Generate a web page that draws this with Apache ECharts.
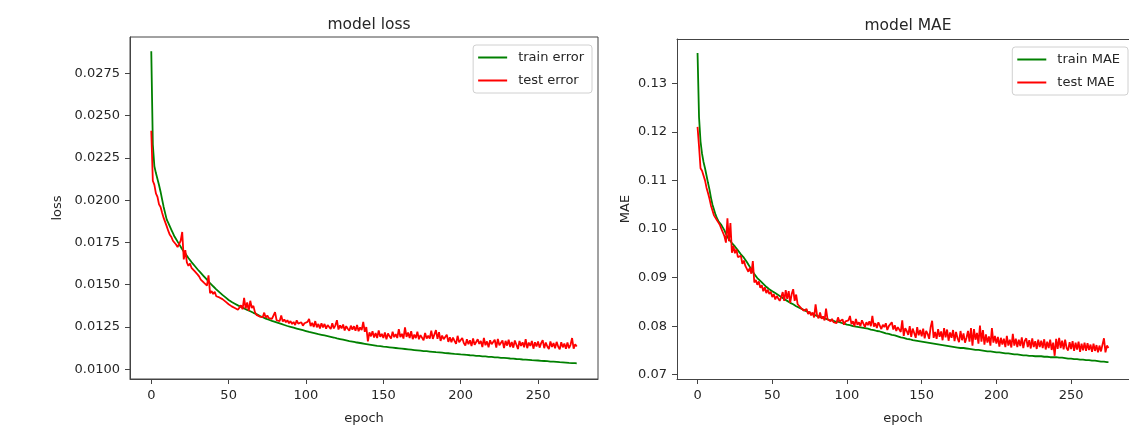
<!DOCTYPE html>
<html>
<head>
<meta charset="utf-8">
<script src="https://cdn.jsdelivr.net/npm/echarts@6/dist/echarts.min.js"></script>
<style>html,body{margin:0;padding:0;background:#fff;}#c{width:1129px;height:430px;}</style>
</head>
<body>
<div id="c"></div>
<script>
// ---- data ----
const epochCount = 276;
const epochTicks = [0, 50, 100, 150, 200, 250];
const lossTicks = [0.0100, 0.0125, 0.0150, 0.0175, 0.0200, 0.0225, 0.0250, 0.0275];
const maeTicks = [0.07, 0.08, 0.09, 0.10, 0.11, 0.12, 0.13];

// loss values in units of 1e-5
const trainLoss = [
2880,2330,2200,2160,2125,2090,2050,2005,1960,1922,
1885,1865,1845,1825,1805,1785,1770,1755,1740,1725,
1710,1697,1684,1671,1658,1646,1634,1623,1612,1601,
1590,1580,1570,1560,1550,1540,1530,1520,1510,1500,
1491,1482,1473,1464,1456,1448,1440,1432,1425,1418,
1410,1404,1398,1393,1388,1383,1378,1373,1369,1364,
1360,1356,1351,1347,1343,1338,1334,1330,1326,1322,
1316,1312,1308,1304,1300,1297,1293,1290,1286,1283,
1280,1277,1274,1271,1268,1265,1262,1259,1256,1254,
1251,1248,1246,1243,1241,1238,1236,1233,1231,1228,
1226,1224,1221,1219,1217,1215,1213,1210,1208,1206,
1204,1202,1200,1198,1196,1194,1192,1190,1188,1186,
1183,1181,1179,1177,1175,1173,1171,1169,1167,1165,
1164,1162,1160,1159,1157,1155,1154,1152,1151,1149,
1148,1146,1145,1143,1142,1141,1139,1138,1137,1135,
1134,1133,1132,1131,1130,1129,1128,1127,1126,1125,
1124,1123,1122,1121,1120,1119,1118,1117,1116,1115,
1114,1113,1112,1111,1110,1109,1108,1107,1107,1106,
1105,1104,1103,1102,1101,1101,1100,1099,1098,1097,
1096,1095,1095,1094,1093,1092,1091,1091,1090,1089,
1088,1087,1087,1086,1085,1084,1083,1083,1082,1081,
1080,1080,1079,1078,1077,1077,1076,1075,1074,1074,
1073,1072,1071,1071,1070,1069,1068,1068,1067,1066,
1066,1065,1064,1063,1063,1062,1061,1061,1060,1059,
1058,1058,1057,1056,1056,1055,1054,1054,1053,1052,
1052,1051,1050,1050,1049,1048,1048,1047,1046,1046,
1045,1044,1044,1043,1042,1042,1041,1040,1040,1039,
1038,1038,1037,1036,1036,1035
];
const testLoss = [
2410,2115,2090,2040,2020,1975,1960,1925,1895,1870,
1845,1818,1795,1782,1760,1752,1738,1722,1712,1760,
1812,1650,1705,1632,1612,1625,1600,1608,1580,1572,
1560,1548,1530,1538,1512,1520,1495,1555,1450,1462,
1445,1458,1432,1440,1425,1432,1415,1420,1400,1408,
1385,1392,1372,1380,1362,1368,1352,1360,1378,1355,
1422,1360,1395,1345,1405,1362,1375,1338,1322,1330,
1312,1320,1308,1335,1305,1318,1302,1310,1298,1306,
1338,1290,1300,1285,1318,1282,1295,1278,1290,1272,
1285,1268,1280,1262,1290,1270,1265,1278,1258,1272,
1262,1280,1298,1255,1275,1250,1285,1248,1268,1242,
1272,1248,1268,1240,1262,1250,1238,1272,1242,1260,
1290,1235,1260,1242,1265,1230,1255,1240,1228,1258,
1235,1255,1228,1262,1225,1248,1232,1280,1222,1250,
1165,1218,1195,1225,1188,1215,1185,1230,1192,1210,
1185,1218,1178,1212,1195,1182,1222,1190,1208,1185,
1238,1190,1210,1182,1248,1192,1218,1185,1225,1178,
1205,1185,1222,1178,1202,1210,1172,1215,1182,1198,
1182,1228,1180,1172,1232,1180,1220,1168,1200,1178,
1175,1205,1162,1190,1160,1188,1168,1150,1198,1160,
1152,1185,1155,1140,1178,1148,1172,1138,1182,1145,
1138,1178,1150,1168,1132,1185,1142,1165,1130,1172,
1148,1140,1175,1128,1180,1142,1138,1170,1125,1168,
1140,1175,1132,1162,1128,1170,1145,1120,1168,1138,
1160,1130,1178,1125,1158,1138,1168,1122,1160,1135,
1165,1128,1155,1172,1125,1158,1135,1120,1165,1132,
1155,1125,1162,1135,1118,1160,1130,1152,1122,1158,
1125,1145,1185,1122,1148,1135
];
// MAE values in units of 1e-4
const trainMAE = [
1362,1230,1180,1155,1138,1125,1110,1095,1081,1064,
1050,1040,1030,1022,1016,1012,1008,1004,997,990,
984,979,975,971,967,964,960,956,952,948,
945,941,938,932,927,922,917,912,907,903,
899,896,893,890,887,884,881,878,876,874,
872,870,868,866,864,862,860,858,856,854,
852,850,848,846,845,843,841,840,838,837,
835,833,832,830,829,827,826,825,823,822,
821,820,819,818,817,816,815,814,813,813,
812,811,810,810,809,808,807,806,805,804,
803,802,802,801,800,800,799,799,798,798,
797,796,796,795,795,794,793,793,792,791,
790,789,789,788,787,786,785,785,784,783,
782,781,781,780,779,778,777,777,776,775,
774,773,773,772,771,771,770,769,769,768,
768,767,767,766,766,765,765,764,764,763,
763,762,762,761,761,760,760,759,759,758,
758,758,757,757,756,756,755,755,755,754,
754,753,753,753,752,752,751,751,751,750,
750,750,749,749,748,748,748,747,747,747,
746,746,746,745,745,745,744,744,744,743,
743,743,742,742,742,741,741,741,740,740,
740,740,739,739,739,739,738,738,738,738,
738,737,737,737,737,736,736,736,736,736,
736,735,735,735,735,734,734,734,733,733,
733,733,732,732,732,731,731,731,731,730,
730,730,730,729,729,729,729,728,728,728,
727,727,727,727,726,726
];
const testMAE = [
1210,1170,1125,1120,1118,1100,1085,1074,1062,1048,
1038,1028,1025,1018,1013,1008,1000,996,985,972,
1022,975,1012,951,965,950,958,942,938,945,
928,935,924,918,912,920,908,934,890,895,
885,892,879,884,872,880,868,875,866,871,
860,866,855,862,858,852,860,870,852,874,
856,872,848,866,876,852,865,845,842,838,
836,832,828,835,825,830,822,828,818,845,
822,816,828,815,820,812,836,814,818,810,
815,808,812,806,818,809,805,814,803,810,
806,812,821,804,810,800,815,803,808,800,
812,805,798,808,802,810,800,821,799,806,
796,808,811,794,803,798,806,792,800,796,
808,793,802,790,798,795,788,812,780,796,
790,782,800,778,795,786,776,798,781,792,
779,795,775,790,784,774,798,811,776,788,
774,794,778,789,771,796,777,793,770,787,
776,792,769,788,775,767,790,771,785,766,
776,790,768,796,760,794,772,786,764,801,
768,792,762,783,766,779,760,796,766,780,
764,778,758,776,762,774,757,780,760,772,
756,784,760,774,757,772,759,777,755,770,
775,757,771,754,775,757,769,753,772,757,
770,755,773,752,768,755,772,751,766,739,
774,753,776,755,770,752,772,755,750,767,
753,769,749,766,752,768,747,764,750,766,
749,765,751,762,747,764,749,761,746,760,
748,762,775,746,760,755
];

// ---- build ----
const epochs = Array.from({length: epochCount}, (_, i) => i);
const pairs = (arr, scale) => epochs.map(i => [i, arr[i] * scale]);

const F = 'DejaVu Sans';
const TXT = '#262626';
const SP = '#444';

function xAx(grid) {
  return {
    type: 'value', gridIndex: grid, min: -13.75, max: 288.75,
    name: 'epoch', nameLocation: 'middle', nameGap: 33,
    nameTextStyle: {fontFamily: F, fontSize: 13, color: TXT},
    axisLine: {show: true, onZero: false, lineStyle: {color: SP, width: 1}},
    axisTick: {show: true, customValues: epochTicks, length: 5, inside: false, lineStyle: {color: SP}},
    axisLabel: {customValues: epochTicks, margin: 10, fontFamily: F, fontSize: 13, color: TXT},
    splitLine: {show: false}
  };
}
function topSpine(grid) {
  return {
    type: 'value', gridIndex: grid, position: 'top', min: -13.75, max: 288.75,
    axisLine: {show: true, onZero: false, lineStyle: {color: SP, width: 1}},
    axisTick: {show: false}, axisLabel: {show: false}, splitLine: {show: false}
  };
}
function yAx(grid, name, ticks, min, max, dec, gap) {
  return {
    type: 'value', gridIndex: grid, min: min, max: max,
    name: name, nameLocation: 'middle', nameGap: gap, nameRotate: 90,
    nameTextStyle: {fontFamily: F, fontSize: 13, color: TXT},
    axisLine: {show: true, onZero: false, lineStyle: {color: SP, width: 1}},
    axisTick: {show: true, customValues: ticks, length: 5, lineStyle: {color: SP}},
    axisLabel: {customValues: ticks, margin: 10, fontFamily: F, fontSize: 13, color: TXT,
      formatter: v => v.toFixed(dec)},
    splitLine: {show: false}
  };
}
function legend(names, right, top) {
  return {
    data: names, right: right, top: top, orient: 'vertical',
    icon: 'rect', itemWidth: 29, itemHeight: 2, itemGap: 10,
    padding: [6, 8, 6, 5],
    borderColor: '#d0d0d0', borderWidth: 1, borderRadius: 3,
    backgroundColor: 'rgba(255,255,255,0.85)',
    textStyle: {fontFamily: F, fontSize: 13, color: TXT, padding: [0, 0, 0, 6]}
  };
}
function line(name, grid, data, color) {
  return {
    name: name, type: 'line', xAxisIndex: grid, yAxisIndex: grid,
    data: data, showSymbol: false, symbol: 'none',
    lineStyle: {color: color, width: 1.8}, itemStyle: {color: color},
    emphasis: {disabled: true}
  };
}

const chart = echarts.init(document.getElementById('c'), null, {renderer: 'canvas'});
chart.setOption({
  animation: false,
  backgroundColor: '#ffffff',
  title: [
    {text: 'model loss', left: 364, top: 12, textAlign: 'center',
     textStyle: {fontFamily: F, fontSize: 15.5, fontWeight: 'normal', color: TXT}},
    {text: 'model MAE', left: 903, top: 13, textAlign: 'center',
     textStyle: {fontFamily: F, fontSize: 15.5, fontWeight: 'normal', color: TXT}}
  ],
  grid: [
    {left: 130, top: 37, width: 468, height: 342, show: true, borderColor: SP, borderWidth: 1, backgroundColor: 'transparent'},
    {left: 677, top: 39, width: 456, height: 341, show: false}
  ],
  xAxis: [xAx(0), xAx(1), topSpine(1)],
  yAxis: [
    yAx(0, 'loss', lossTicks, 0.009427, 0.029645, 4, 66),
    yAx(1, 'MAE', maeTicks, 0.06912, 0.1391, 2, 45)
  ],
  legend: [
    legend(['train error', 'test error'], 537, 45),
    legend(['train MAE', 'test MAE'], 1, 47)
  ],
  series: [
    line('train error', 0, pairs(trainLoss, 1e-5), '#008000'),
    line('test error', 0, pairs(testLoss, 1e-5), '#ff0000'),
    line('train MAE', 1, pairs(trainMAE, 1e-4), '#008000'),
    line('test MAE', 1, pairs(testMAE, 1e-4), '#ff0000')
  ]
});
</script>
</body>
</html>
